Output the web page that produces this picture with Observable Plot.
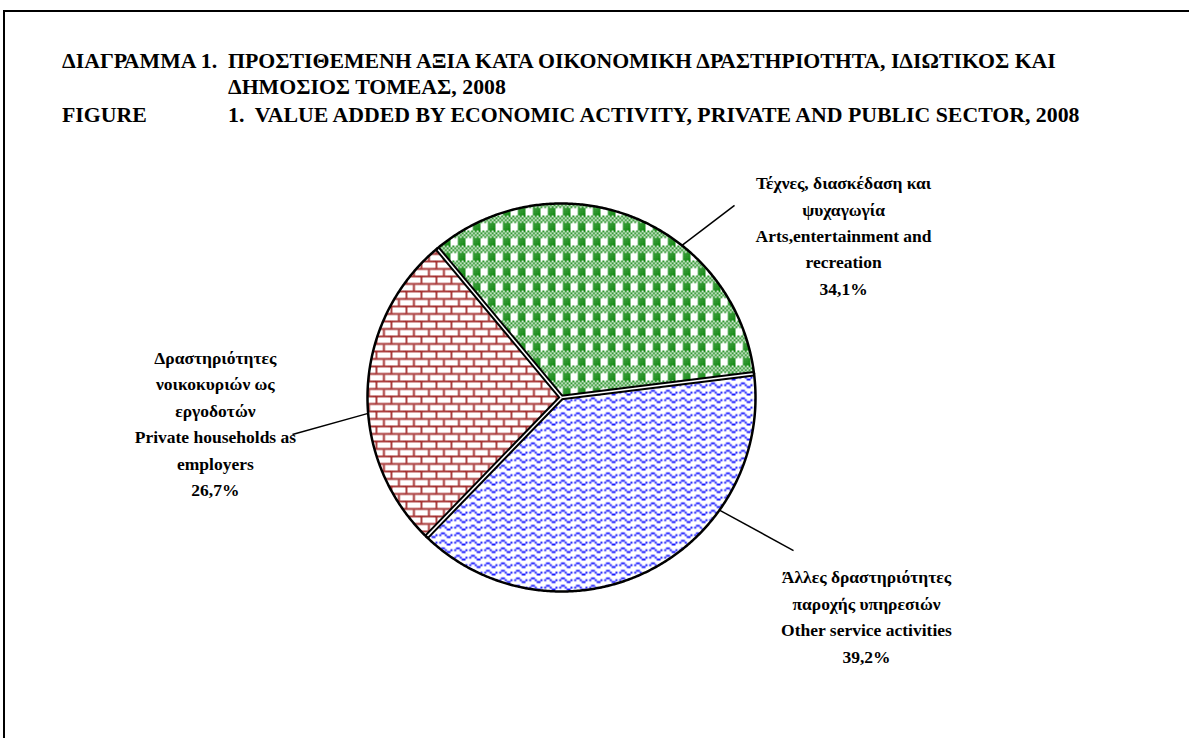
<!DOCTYPE html>
<html>
<head>
<meta charset="utf-8">
<script src="https://cdn.jsdelivr.net/npm/d3@7"></script>
<script src="https://cdn.jsdelivr.net/npm/@observablehq/plot@0.6"></script>
<style>
  html, body { margin: 0; padding: 0; background: #fff; }
  body { width: 1189px; height: 738px; position: relative; overflow: hidden; }
  #frame { position: absolute; left: 3px; top: 10px; width: 1300px; height: 800px;
           border-top: 2.5px solid #000; border-left: 2.5px solid #000; }
  .t { position: absolute; font-family: "Liberation Serif", "Times New Roman", serif;
       font-weight: bold; font-size: 21.8px; line-height: 24px; white-space: pre; color: #000; }
  #chart { position: absolute; left: 0; top: 140px; }
</style>
</head>
<body>
<div id="frame"></div>
<div class="t" style="left:62px; top:49px"><span id="t1a">ΔΙΑΓΡΑΜΜΑ 1.  </span>ΠΡΟΣΤΙΘΕΜΕΝΗ ΑΞΙΑ ΚΑΤΑ ΟΙΚΟΝΟΜΙΚΗ ΔΡΑΣΤΗΡΙΟΤΗΤΑ, ΙΔΙΩΤΙΚΟΣ ΚΑΙ</div>
<div class="t" id="t2" style="left:229px; top:75px">ΔΗΜΟΣΙΟΣ ΤΟΜΕΑΣ, 2008</div>
<div class="t" style="left:62px; top:103px">FIGURE</div>
<div class="t" id="t3" style="left:229px; top:103px">1.  VALUE ADDED BY ECONOMIC ACTIVITY, PRIVATE AND PUBLIC SECTOR, 2008</div>
<svg width="0" height="0" style="position:absolute">
  <defs id="pdefs"></defs>
</svg>
<div id="chart"></div>
<script>
// ---- data ----
const categories = ["Arts, entertainment and recreation", "Other service activities", "Private households as employers"];
const shares = [34.1, 39.2, 26.7];
const labelsGreek = ["Τέχνες, διασκέδαση και\nψυχαγωγία", "Άλλες δραστηριότητες\nπαροχής υπηρεσιών", "Δραστηριότητες\nνοικοκυριών ως\nεργοδοτών"];
const labelsEnglish = ["Arts,entertainment and\nrecreation", "Other service activities", "Private households as\nemployers"];
const sliceColors = ["#008000", "#0000ff", "#9c1c1c"];

// ---- layout (not data) ----
const firstSliceAngle = -39.8; // degrees clockwise from 12 o'clock
const R = 194, cx = 561, cy = 257, W = 1189, H = 598;
const labelPos = [[1.454, 0.845], [1.572, -1.119], [-1.784, -0.124]];
const leaders = [[38.4, 0.892, 0.990], [125.5, 1.196, -0.789], [265.3, -1.387, -0.191]];

// align title continuation lines
const ta = document.getElementById("t1a").getBoundingClientRect();
document.getElementById("t2").style.left = ta.right + "px";
document.getElementById("t3").style.left = ta.right + "px";

// ---- patterns (Excel-style 8x8 bitmaps) ----
const bitmaps = [
  [0x55, 0xaa, 0x55, 0xaa, 0x0f, 0x0f, 0x0f, 0x0f], // plaid
  [0x00, 0x18, 0xa4, 0x03, 0x00, 0x18, 0xa4, 0x03], // wave
  [0xff, 0x80, 0x80, 0x80, 0xff, 0x08, 0x08, 0x08]  // horizontal brick
];
const s = 1.875;
const defs = d3.select("#pdefs");
bitmaps.forEach((bm, i) => {
  const p = defs.append("pattern").attr("id", "pat" + i).attr("patternUnits", "userSpaceOnUse")
    .attr("width", 8 * s).attr("height", 8 * s);
  p.append("rect").attr("width", 8 * s).attr("height", 8 * s).attr("fill", "#fff");
  bm.forEach((row, y) => {
    for (let x = 0; x < 8; x++) {
      if (row & (0x80 >> x)) p.append("rect").attr("x", x * s).attr("y", y * s)
        .attr("width", s).attr("height", s).attr("fill", sliceColors[i]);
    }
  });
});

// ---- geometry from shares ----
const rad = a => a * Math.PI / 180;
let acc = firstSliceAngle;
const slices = [], arcs = [], bounds = [];
shares.forEach((v, i) => {
  const a0 = acc, a1 = acc + v * 3.6; acc = a1;
  bounds.push({a: a0});
  const n = Math.ceil((a1 - a0) / 0.5);
  const pts = [];
  for (let k = 0; k <= n; k++) {
    const a = a0 + (a1 - a0) * k / n;
    pts.push({cat: categories[i], x: Math.sin(rad(a)), y: Math.cos(rad(a))});
  }
  arcs.push(...pts);
  slices.push([{cat: categories[i], x: 0, y: 0}, ...pts, {cat: categories[i], x: 0, y: 0}]);
});

const fmt = v => v.toFixed(1).replace(".", ",") + "%";
const labels = categories.map((c, i) => ({
  text: labelsGreek[i] + "\n" + labelsEnglish[i] + "\n" + fmt(shares[i]),
  x: labelPos[i][0], y: labelPos[i][1]
}));
const leaderLines = leaders.map(([a, x2, y2]) => ({x1: Math.sin(rad(a)), y1: Math.cos(rad(a)), x2, y2}));

const plot = Plot.plot({
  width: W, height: H, margin: 0,
  x: {domain: [-cx / R, (W - cx) / R], axis: null},
  y: {domain: [(cy - H) / R, cy / R], axis: null},
  marks: [
    ...slices.map((pts, i) => Plot.line(pts, {x: "x", y: "y", fill: `url(#pat${i})`, stroke: "none", curve: "linear"})),
    Plot.link(bounds, {x1: () => 0, y1: () => 0, x2: d => Math.sin(rad(d.a)), y2: d => Math.cos(rad(d.a)), stroke: "#000", strokeWidth: 5.5}),
    Plot.link(bounds, {x1: () => 0, y1: () => 0, x2: d => Math.sin(rad(d.a)), y2: d => Math.cos(rad(d.a)), stroke: "#fff", strokeWidth: 1.5}),
    Plot.line(arcs, {x: "x", y: "y", z: "cat", stroke: "#000", strokeWidth: 2.5}),
    Plot.link(leaderLines, {x1: "x1", y1: "y1", x2: "x2", y2: "y2", stroke: "#000", strokeWidth: 1.5}),
    Plot.text(labels, {x: "x", y: "y", text: "text", fontSize: 17.5, fontWeight: "bold",
      fontFamily: "Liberation Serif", lineHeight: 1.51, lineAnchor: "middle", textAnchor: "middle", fill: "#000"})
  ]
});
document.getElementById("chart").appendChild(plot);
</script>
</body>
</html>
